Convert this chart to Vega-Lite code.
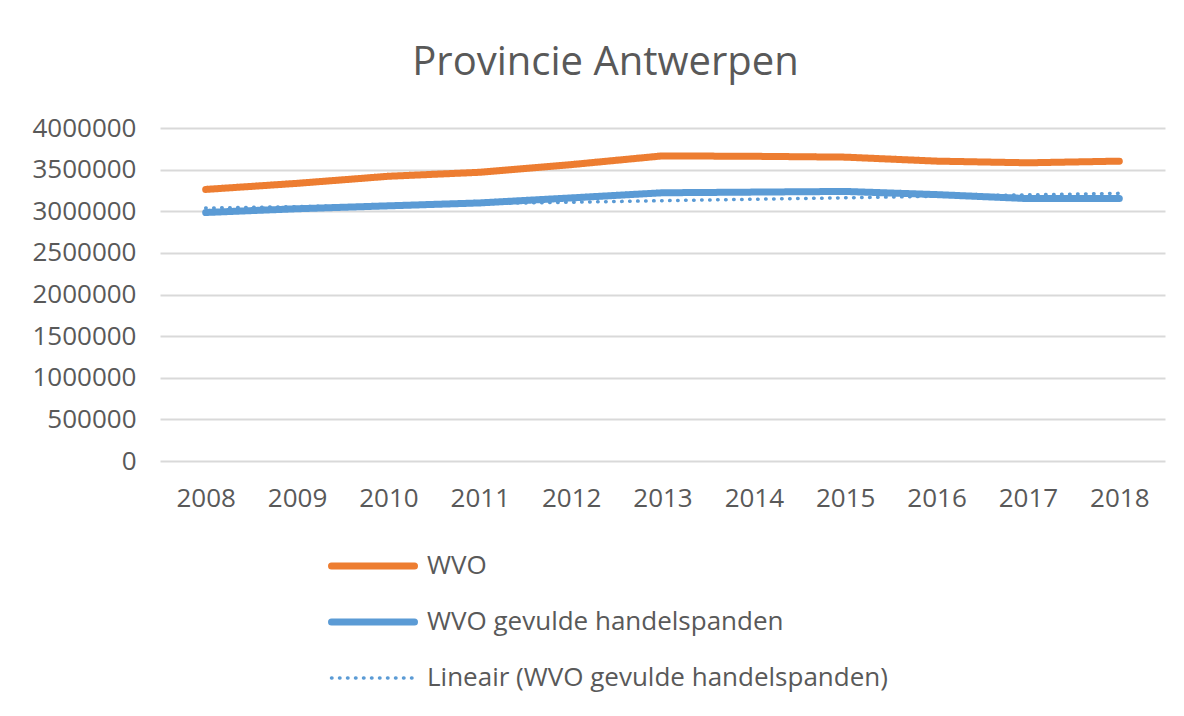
{
  "$schema": "https://vega.github.io/schema/vega-lite/v6.json",
  "width": 1005,
  "height": 333,
  "autosize": {"type": "none"},
  "padding": {"left": 160, "top": 128, "right": 19, "bottom": 255},
  "background": "white",
  "title": {
    "text": "Provincie Antwerpen",
    "font": "Open Sans",
    "fontSize": 40,
    "fontWeight": "normal",
    "color": "#595959",
    "anchor": "middle",
    "dx": -57,
    "offset": 32
  },
  "config": {
    "view": {"stroke": null},
    "font": "Open Sans",
    "axis": {
      "labelFont": "Open Sans",
      "labelColor": "#595959",
      "labelFontSize": 26,
      "gridColor": "#D9D9D9",
      "gridWidth": 2,
      "domain": false,
      "ticks": false,
      "title": null
    }
  },
  "data": {
    "values": [
      {"year": "2008", "series": "WVO", "value": 3262000},
      {"year": "2009", "series": "WVO", "value": 3335000},
      {"year": "2010", "series": "WVO", "value": 3420000},
      {"year": "2011", "series": "WVO", "value": 3468000},
      {"year": "2012", "series": "WVO", "value": 3560000},
      {"year": "2013", "series": "WVO", "value": 3665000},
      {"year": "2014", "series": "WVO", "value": 3660000},
      {"year": "2015", "series": "WVO", "value": 3650000},
      {"year": "2016", "series": "WVO", "value": 3602000},
      {"year": "2017", "series": "WVO", "value": 3582000},
      {"year": "2018", "series": "WVO", "value": 3602000},
      {"year": "2008", "series": "WVO gevulde handelspanden", "value": 2985000},
      {"year": "2009", "series": "WVO gevulde handelspanden", "value": 3030000},
      {"year": "2010", "series": "WVO gevulde handelspanden", "value": 3065000},
      {"year": "2011", "series": "WVO gevulde handelspanden", "value": 3100000},
      {"year": "2012", "series": "WVO gevulde handelspanden", "value": 3160000},
      {"year": "2013", "series": "WVO gevulde handelspanden", "value": 3222000},
      {"year": "2014", "series": "WVO gevulde handelspanden", "value": 3230000},
      {"year": "2015", "series": "WVO gevulde handelspanden", "value": 3238000},
      {"year": "2016", "series": "WVO gevulde handelspanden", "value": 3200000},
      {"year": "2017", "series": "WVO gevulde handelspanden", "value": 3152000},
      {"year": "2018", "series": "WVO gevulde handelspanden", "value": 3152000},
      {"year": "2008", "series": "Lineair (WVO gevulde handelspanden)", "value": 3038000},
      {"year": "2018", "series": "Lineair (WVO gevulde handelspanden)", "value": 3215000}
    ]
  },
  "mark": {"type": "line", "strokeCap": "round", "strokeJoin": "round"},
  "encoding": {
    "x": {
      "field": "year",
      "type": "ordinal",
      "scale": {"type": "point", "padding": 0.5},
      "axis": {"labelAngle": 0, "grid": false, "labelPadding": 24}
    },
    "y": {
      "field": "value",
      "type": "quantitative",
      "scale": {"domain": [0, 4000000], "nice": false},
      "axis": {"values": [0, 500000, 1000000, 1500000, 2000000, 2500000, 3000000, 3500000, 4000000], "format": "d", "labelPadding": 24}
    },
    "color": {
      "field": "series",
      "type": "nominal",
      "scale": {
        "domain": ["WVO", "WVO gevulde handelspanden", "Lineair (WVO gevulde handelspanden)"],
        "range": ["#ED7D31", "#5B9BD5", "#5B9BD5"]
      },
      "legend": {
        "title": null,
        "orient": "none",
        "legendX": 168,
        "legendY": 422,
        "direction": "vertical",
        "symbolType": "stroke",
        "symbolSize": 6889,
        "labelFont": "Open Sans",
        "labelFontSize": 26,
        "labelColor": "#595959",
        "labelOffset": 9,
        "clipHeight": 32,
        "rowPadding": 24,
        "labelLimit": 600,
        "encode": {
          "symbols": {
            "update": {
              "strokeWidth": {"signal": "datum.value == 'Lineair (WVO gevulde handelspanden)' ? 3.5 : 7"},
              "strokeCap": {"value": "round"}
            }
          }
        }
      }
    },
    "strokeDash": {
      "field": "series",
      "type": "nominal",
      "scale": {
        "domain": ["WVO", "WVO gevulde handelspanden", "Lineair (WVO gevulde handelspanden)"],
        "range": [[1, 0], [1, 0], [0.5, 7.5]]
      },
      "legend": null
    },
    "strokeWidth": {
      "field": "series",
      "type": "nominal",
      "scale": {
        "type": "ordinal",
        "domain": ["WVO", "WVO gevulde handelspanden", "Lineair (WVO gevulde handelspanden)"],
        "range": [7, 7, 3.5]
      },
      "legend": null
    },
    "order": {"field": "series"}
  }
}
